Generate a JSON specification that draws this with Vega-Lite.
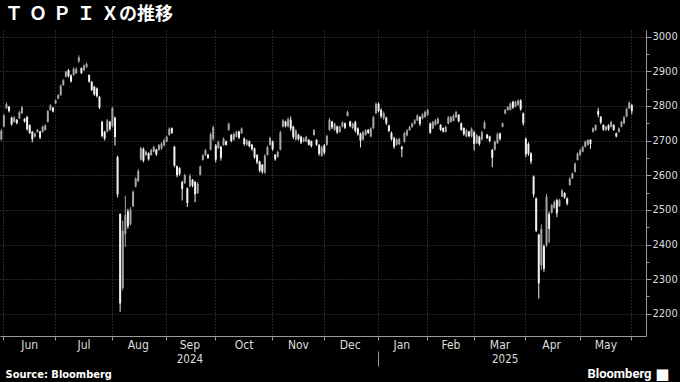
{
  "$schema": "https://vega.github.io/schema/vega-lite/v6.json",
  "width": 646,
  "height": 306,
  "autosize": {"type": "none"},
  "padding": {"left": 0, "top": 30, "right": 34, "bottom": 46},
  "background": "#000000",
  "config": {"view": {"stroke": null}},
  "title": {"text": "Ｔ\u2004Ｏ\u2004Ｐ\u2004Ｉ\u2004Ｘの推移", "anchor": "start", "dx": 5, "offset": 6, "font": "Noto Sans CJK JP", "fontSize": 18, "fontWeight": "bold", "color": "#ffffff"},
  "data": {"values": [
    {"d":"2024-05-30","o":2704,"h":2733,"l":2700,"c":2728},
    {"d":"2024-05-31","o":2741,"h":2776,"l":2738,"c":2772},
    {"d":"2024-06-03","o":2793,"h":2810,"l":2791,"c":2805},
    {"d":"2024-06-04","o":2798,"h":2800,"l":2781,"c":2785},
    {"d":"2024-06-05","o":2766,"h":2769,"l":2743,"c":2747},
    {"d":"2024-06-06","o":2754,"h":2771,"l":2752,"c":2766},
    {"d":"2024-06-07","o":2760,"h":2762,"l":2747,"c":2750},
    {"d":"2024-06-10","o":2764,"h":2786,"l":2762,"c":2782},
    {"d":"2024-06-11","o":2779,"h":2800,"l":2776,"c":2796},
    {"d":"2024-06-12","o":2763,"h":2765,"l":2752,"c":2755},
    {"d":"2024-06-13","o":2768,"h":2771,"l":2728,"c":2733},
    {"d":"2024-06-14","o":2744,"h":2747,"l":2719,"c":2722},
    {"d":"2024-06-17","o":2725,"h":2728,"l":2695,"c":2704},
    {"d":"2024-06-18","o":2711,"h":2723,"l":2709,"c":2720},
    {"d":"2024-06-19","o":2724,"h":2733,"l":2723,"c":2731},
    {"d":"2024-06-20","o":2726,"h":2728,"l":2704,"c":2708},
    {"d":"2024-06-21","o":2725,"h":2743,"l":2723,"c":2740},
    {"d":"2024-06-24","o":2731,"h":2747,"l":2728,"c":2744},
    {"d":"2024-06-25","o":2754,"h":2788,"l":2752,"c":2785},
    {"d":"2024-06-26","o":2788,"h":2805,"l":2786,"c":2801},
    {"d":"2024-06-27","o":2795,"h":2797,"l":2781,"c":2784},
    {"d":"2024-06-28","o":2807,"h":2819,"l":2805,"c":2816},
    {"d":"2024-07-01","o":2821,"h":2834,"l":2819,"c":2831},
    {"d":"2024-07-02","o":2831,"h":2862,"l":2829,"c":2858},
    {"d":"2024-07-03","o":2860,"h":2877,"l":2858,"c":2874},
    {"d":"2024-07-04","o":2884,"h":2901,"l":2882,"c":2898},
    {"d":"2024-07-05","o":2903,"h":2906,"l":2882,"c":2886},
    {"d":"2024-07-08","o":2888,"h":2891,"l":2867,"c":2871},
    {"d":"2024-07-09","o":2889,"h":2911,"l":2887,"c":2907},
    {"d":"2024-07-10","o":2894,"h":2911,"l":2892,"c":2906},
    {"d":"2024-07-11","o":2928,"h":2946,"l":2925,"c":2940},
    {"d":"2024-07-12","o":2909,"h":2911,"l":2892,"c":2895},
    {"d":"2024-07-16","o":2903,"h":2920,"l":2901,"c":2916},
    {"d":"2024-07-17","o":2912,"h":2925,"l":2910,"c":2921},
    {"d":"2024-07-18","o":2889,"h":2891,"l":2867,"c":2870},
    {"d":"2024-07-19","o":2869,"h":2872,"l":2843,"c":2846},
    {"d":"2024-07-22","o":2855,"h":2858,"l":2829,"c":2833},
    {"d":"2024-07-23","o":2850,"h":2853,"l":2824,"c":2828},
    {"d":"2024-07-24","o":2826,"h":2829,"l":2791,"c":2795},
    {"d":"2024-07-25","o":2754,"h":2757,"l":2709,"c":2713},
    {"d":"2024-07-26","o":2725,"h":2728,"l":2700,"c":2706},
    {"d":"2024-07-29","o":2726,"h":2762,"l":2723,"c":2758},
    {"d":"2024-07-30","o":2754,"h":2757,"l":2728,"c":2733},
    {"d":"2024-07-31","o":2742,"h":2797,"l":2738,"c":2794},
    {"d":"2024-08-01","o":2766,"h":2769,"l":2685,"c":2710},
    {"d":"2024-08-02","o":2652,"h":2656,"l":2536,"c":2545},
    {"d":"2024-08-05","o":2488,"h":2490,"l":2206,"c":2230},
    {"d":"2024-08-06","o":2275,"h":2469,"l":2268,"c":2440},
    {"d":"2024-08-07","o":2430,"h":2541,"l":2393,"c":2485},
    {"d":"2024-08-08","o":2495,"h":2503,"l":2445,"c":2452},
    {"d":"2024-08-09","o":2460,"h":2508,"l":2455,"c":2500},
    {"d":"2024-08-13","o":2510,"h":2556,"l":2508,"c":2552},
    {"d":"2024-08-14","o":2567,"h":2594,"l":2565,"c":2590},
    {"d":"2024-08-15","o":2583,"h":2618,"l":2580,"c":2612},
    {"d":"2024-08-16","o":2645,"h":2682,"l":2642,"c":2678},
    {"d":"2024-08-19","o":2676,"h":2680,"l":2637,"c":2642},
    {"d":"2024-08-20","o":2658,"h":2671,"l":2656,"c":2668},
    {"d":"2024-08-21","o":2664,"h":2666,"l":2642,"c":2646},
    {"d":"2024-08-22","o":2658,"h":2676,"l":2656,"c":2672},
    {"d":"2024-08-23","o":2668,"h":2685,"l":2666,"c":2681},
    {"d":"2024-08-26","o":2674,"h":2676,"l":2656,"c":2660},
    {"d":"2024-08-27","o":2673,"h":2690,"l":2671,"c":2686},
    {"d":"2024-08-28","o":2678,"h":2695,"l":2673,"c":2691},
    {"d":"2024-08-29","o":2686,"h":2705,"l":2683,"c":2700},
    {"d":"2024-08-30","o":2697,"h":2714,"l":2695,"c":2711},
    {"d":"2024-09-02","o":2716,"h":2738,"l":2714,"c":2734},
    {"d":"2024-09-03","o":2736,"h":2738,"l":2719,"c":2722},
    {"d":"2024-09-04","o":2682,"h":2685,"l":2623,"c":2628},
    {"d":"2024-09-05","o":2626,"h":2628,"l":2594,"c":2600},
    {"d":"2024-09-06","o":2620,"h":2623,"l":2599,"c":2604},
    {"d":"2024-09-09","o":2580,"h":2584,"l":2527,"c":2560},
    {"d":"2024-09-10","o":2577,"h":2604,"l":2575,"c":2600},
    {"d":"2024-09-11","o":2562,"h":2565,"l":2508,"c":2520},
    {"d":"2024-09-12","o":2568,"h":2604,"l":2565,"c":2598},
    {"d":"2024-09-13","o":2587,"h":2589,"l":2565,"c":2570},
    {"d":"2024-09-17","o":2580,"h":2584,"l":2522,"c":2545},
    {"d":"2024-09-18","o":2548,"h":2580,"l":2546,"c":2575},
    {"d":"2024-09-19","o":2601,"h":2628,"l":2599,"c":2625},
    {"d":"2024-09-20","o":2644,"h":2661,"l":2642,"c":2657},
    {"d":"2024-09-24","o":2658,"h":2676,"l":2656,"c":2672},
    {"d":"2024-09-25","o":2659,"h":2661,"l":2647,"c":2650},
    {"d":"2024-09-26","o":2674,"h":2723,"l":2671,"c":2718},
    {"d":"2024-09-27","o":2705,"h":2743,"l":2700,"c":2738},
    {"d":"2024-09-30","o":2686,"h":2690,"l":2637,"c":2645},
    {"d":"2024-10-01","o":2678,"h":2700,"l":2676,"c":2696},
    {"d":"2024-10-02","o":2682,"h":2685,"l":2642,"c":2650},
    {"d":"2024-10-03","o":2687,"h":2709,"l":2685,"c":2705},
    {"d":"2024-10-04","o":2698,"h":2700,"l":2685,"c":2688},
    {"d":"2024-10-07","o":2731,"h":2752,"l":2728,"c":2748},
    {"d":"2024-10-08","o":2716,"h":2719,"l":2695,"c":2699},
    {"d":"2024-10-09","o":2703,"h":2723,"l":2700,"c":2719},
    {"d":"2024-10-10","o":2711,"h":2728,"l":2709,"c":2725},
    {"d":"2024-10-11","o":2726,"h":2728,"l":2704,"c":2708},
    {"d":"2024-10-15","o":2721,"h":2738,"l":2719,"c":2735},
    {"d":"2024-10-16","o":2706,"h":2709,"l":2685,"c":2690},
    {"d":"2024-10-17","o":2688,"h":2704,"l":2685,"c":2700},
    {"d":"2024-10-18","o":2698,"h":2700,"l":2680,"c":2684},
    {"d":"2024-10-21","o":2688,"h":2690,"l":2671,"c":2675},
    {"d":"2024-10-22","o":2677,"h":2680,"l":2647,"c":2652},
    {"d":"2024-10-23","o":2658,"h":2661,"l":2632,"c":2637},
    {"d":"2024-10-24","o":2639,"h":2642,"l":2608,"c":2613},
    {"d":"2024-10-25","o":2630,"h":2632,"l":2604,"c":2610},
    {"d":"2024-10-28","o":2608,"h":2661,"l":2604,"c":2656},
    {"d":"2024-10-29","o":2659,"h":2685,"l":2656,"c":2681},
    {"d":"2024-10-30","o":2688,"h":2711,"l":2685,"c":2707},
    {"d":"2024-10-31","o":2697,"h":2700,"l":2671,"c":2675},
    {"d":"2024-11-01","o":2659,"h":2661,"l":2642,"c":2646},
    {"d":"2024-11-05","o":2653,"h":2671,"l":2651,"c":2667},
    {"d":"2024-11-06","o":2674,"h":2728,"l":2671,"c":2723},
    {"d":"2024-11-07","o":2740,"h":2762,"l":2738,"c":2758},
    {"d":"2024-11-08","o":2755,"h":2757,"l":2738,"c":2742},
    {"d":"2024-11-11","o":2741,"h":2767,"l":2738,"c":2762},
    {"d":"2024-11-12","o":2760,"h":2769,"l":2728,"c":2735},
    {"d":"2024-11-13","o":2740,"h":2743,"l":2704,"c":2710},
    {"d":"2024-11-14","o":2703,"h":2733,"l":2700,"c":2728},
    {"d":"2024-11-15","o":2717,"h":2719,"l":2700,"c":2704},
    {"d":"2024-11-18","o":2711,"h":2714,"l":2690,"c":2694},
    {"d":"2024-11-19","o":2697,"h":2709,"l":2695,"c":2706},
    {"d":"2024-11-20","o":2697,"h":2714,"l":2695,"c":2710},
    {"d":"2024-11-21","o":2702,"h":2704,"l":2685,"c":2688},
    {"d":"2024-11-22","o":2698,"h":2700,"l":2680,"c":2684},
    {"d":"2024-11-25","o":2716,"h":2733,"l":2714,"c":2730},
    {"d":"2024-11-26","o":2702,"h":2704,"l":2685,"c":2688},
    {"d":"2024-11-27","o":2687,"h":2690,"l":2656,"c":2662},
    {"d":"2024-11-28","o":2656,"h":2685,"l":2653,"c":2680},
    {"d":"2024-11-29","o":2686,"h":2690,"l":2659,"c":2665},
    {"d":"2024-12-02","o":2688,"h":2717,"l":2685,"c":2713},
    {"d":"2024-12-03","o":2731,"h":2765,"l":2728,"c":2760},
    {"d":"2024-12-04","o":2755,"h":2757,"l":2733,"c":2738},
    {"d":"2024-12-05","o":2731,"h":2752,"l":2728,"c":2748},
    {"d":"2024-12-06","o":2741,"h":2743,"l":2719,"c":2723},
    {"d":"2024-12-09","o":2725,"h":2743,"l":2723,"c":2739},
    {"d":"2024-12-10","o":2740,"h":2755,"l":2738,"c":2752},
    {"d":"2024-12-11","o":2750,"h":2752,"l":2733,"c":2737},
    {"d":"2024-12-12","o":2771,"h":2786,"l":2769,"c":2782},
    {"d":"2024-12-13","o":2755,"h":2757,"l":2738,"c":2742},
    {"d":"2024-12-16","o":2736,"h":2752,"l":2733,"c":2748},
    {"d":"2024-12-17","o":2753,"h":2757,"l":2723,"c":2728},
    {"d":"2024-12-18","o":2735,"h":2738,"l":2714,"c":2718},
    {"d":"2024-12-19","o":2720,"h":2723,"l":2680,"c":2700},
    {"d":"2024-12-20","o":2703,"h":2728,"l":2700,"c":2724},
    {"d":"2024-12-23","o":2716,"h":2733,"l":2714,"c":2729},
    {"d":"2024-12-24","o":2731,"h":2733,"l":2719,"c":2722},
    {"d":"2024-12-25","o":2712,"h":2738,"l":2709,"c":2735},
    {"d":"2024-12-26","o":2736,"h":2771,"l":2733,"c":2767},
    {"d":"2024-12-27","o":2779,"h":2810,"l":2776,"c":2806},
    {"d":"2024-12-30","o":2806,"h":2810,"l":2781,"c":2785},
    {"d":"2025-01-06","o":2788,"h":2793,"l":2764,"c":2770},
    {"d":"2025-01-07","o":2765,"h":2784,"l":2759,"c":2778},
    {"d":"2025-01-08","o":2766,"h":2769,"l":2745,"c":2750},
    {"d":"2025-01-09","o":2743,"h":2746,"l":2724,"c":2728},
    {"d":"2025-01-10","o":2722,"h":2726,"l":2700,"c":2705},
    {"d":"2025-01-14","o":2707,"h":2711,"l":2676,"c":2682},
    {"d":"2025-01-15","o":2688,"h":2707,"l":2685,"c":2703},
    {"d":"2025-01-16","o":2690,"h":2708,"l":2686,"c":2704},
    {"d":"2025-01-17","o":2682,"h":2685,"l":2652,"c":2675},
    {"d":"2025-01-20","o":2697,"h":2725,"l":2694,"c":2721},
    {"d":"2025-01-21","o":2715,"h":2733,"l":2712,"c":2729},
    {"d":"2025-01-22","o":2730,"h":2742,"l":2728,"c":2739},
    {"d":"2025-01-23","o":2739,"h":2752,"l":2737,"c":2749},
    {"d":"2025-01-24","o":2749,"h":2762,"l":2746,"c":2758},
    {"d":"2025-01-27","o":2758,"h":2776,"l":2756,"c":2772},
    {"d":"2025-01-28","o":2768,"h":2771,"l":2742,"c":2748},
    {"d":"2025-01-29","o":2763,"h":2779,"l":2761,"c":2775},
    {"d":"2025-01-30","o":2768,"h":2786,"l":2766,"c":2782},
    {"d":"2025-01-31","o":2774,"h":2792,"l":2771,"c":2788},
    {"d":"2025-02-03","o":2749,"h":2752,"l":2719,"c":2723},
    {"d":"2025-02-04","o":2735,"h":2757,"l":2733,"c":2753},
    {"d":"2025-02-05","o":2745,"h":2762,"l":2743,"c":2758},
    {"d":"2025-02-06","o":2749,"h":2767,"l":2747,"c":2763},
    {"d":"2025-02-07","o":2745,"h":2747,"l":2728,"c":2731},
    {"d":"2025-02-10","o":2736,"h":2738,"l":2723,"c":2726},
    {"d":"2025-02-12","o":2725,"h":2743,"l":2723,"c":2739},
    {"d":"2025-02-13","o":2749,"h":2771,"l":2747,"c":2767},
    {"d":"2025-02-14","o":2754,"h":2771,"l":2752,"c":2768},
    {"d":"2025-02-17","o":2757,"h":2776,"l":2755,"c":2772},
    {"d":"2025-02-18","o":2767,"h":2786,"l":2765,"c":2782},
    {"d":"2025-02-19","o":2774,"h":2776,"l":2752,"c":2756},
    {"d":"2025-02-20","o":2750,"h":2752,"l":2728,"c":2731},
    {"d":"2025-02-21","o":2736,"h":2738,"l":2714,"c":2718},
    {"d":"2025-02-25","o":2712,"h":2733,"l":2709,"c":2729},
    {"d":"2025-02-26","o":2726,"h":2728,"l":2709,"c":2713},
    {"d":"2025-02-27","o":2712,"h":2738,"l":2709,"c":2734},
    {"d":"2025-02-28","o":2724,"h":2728,"l":2671,"c":2690},
    {"d":"2025-03-03","o":2693,"h":2719,"l":2690,"c":2715},
    {"d":"2025-03-04","o":2711,"h":2714,"l":2685,"c":2690},
    {"d":"2025-03-05","o":2703,"h":2728,"l":2700,"c":2724},
    {"d":"2025-03-06","o":2735,"h":2757,"l":2733,"c":2752},
    {"d":"2025-03-07","o":2717,"h":2719,"l":2704,"c":2707},
    {"d":"2025-03-10","o":2712,"h":2714,"l":2695,"c":2699},
    {"d":"2025-03-11","o":2673,"h":2676,"l":2623,"c":2650},
    {"d":"2025-03-12","o":2674,"h":2700,"l":2671,"c":2696},
    {"d":"2025-03-13","o":2693,"h":2723,"l":2690,"c":2718},
    {"d":"2025-03-14","o":2720,"h":2723,"l":2700,"c":2705},
    {"d":"2025-03-17","o":2740,"h":2752,"l":2738,"c":2749},
    {"d":"2025-03-18","o":2778,"h":2791,"l":2776,"c":2788},
    {"d":"2025-03-19","o":2788,"h":2800,"l":2786,"c":2797},
    {"d":"2025-03-21","o":2789,"h":2810,"l":2786,"c":2806},
    {"d":"2025-03-24","o":2812,"h":2815,"l":2791,"c":2795},
    {"d":"2025-03-25","o":2798,"h":2815,"l":2796,"c":2812},
    {"d":"2025-03-26","o":2803,"h":2819,"l":2800,"c":2815},
    {"d":"2025-03-27","o":2816,"h":2819,"l":2786,"c":2790},
    {"d":"2025-03-28","o":2778,"h":2781,"l":2743,"c":2750},
    {"d":"2025-03-31","o":2705,"h":2709,"l":2652,"c":2660},
    {"d":"2025-04-01","o":2690,"h":2695,"l":2656,"c":2662},
    {"d":"2025-04-02","o":2663,"h":2666,"l":2632,"c":2640},
    {"d":"2025-04-03","o":2596,"h":2599,"l":2536,"c":2545},
    {"d":"2025-04-04","o":2533,"h":2536,"l":2436,"c":2440},
    {"d":"2025-04-07","o":2428,"h":2431,"l":2244,"c":2288},
    {"d":"2025-04-08","o":2340,"h":2458,"l":2326,"c":2445},
    {"d":"2025-04-09","o":2395,"h":2400,"l":2321,"c":2330},
    {"d":"2025-04-10","o":2398,"h":2546,"l":2393,"c":2538},
    {"d":"2025-04-11","o":2488,"h":2495,"l":2405,"c":2445},
    {"d":"2025-04-14","o":2492,"h":2517,"l":2489,"c":2513},
    {"d":"2025-04-15","o":2506,"h":2527,"l":2503,"c":2522},
    {"d":"2025-04-16","o":2528,"h":2532,"l":2479,"c":2490},
    {"d":"2025-04-17","o":2511,"h":2532,"l":2508,"c":2528},
    {"d":"2025-04-18","o":2538,"h":2560,"l":2536,"c":2556},
    {"d":"2025-04-21","o":2549,"h":2551,"l":2532,"c":2536},
    {"d":"2025-04-22","o":2533,"h":2536,"l":2513,"c":2518},
    {"d":"2025-04-23","o":2572,"h":2594,"l":2570,"c":2590},
    {"d":"2025-04-24","o":2591,"h":2608,"l":2589,"c":2605},
    {"d":"2025-04-25","o":2610,"h":2637,"l":2608,"c":2633},
    {"d":"2025-04-28","o":2644,"h":2666,"l":2642,"c":2662},
    {"d":"2025-04-30","o":2658,"h":2676,"l":2656,"c":2672},
    {"d":"2025-05-01","o":2668,"h":2685,"l":2666,"c":2681},
    {"d":"2025-05-02","o":2682,"h":2700,"l":2680,"c":2697},
    {"d":"2025-05-07","o":2688,"h":2704,"l":2685,"c":2701},
    {"d":"2025-05-08","o":2702,"h":2704,"l":2676,"c":2690},
    {"d":"2025-05-09","o":2725,"h":2738,"l":2723,"c":2735},
    {"d":"2025-05-12","o":2730,"h":2747,"l":2728,"c":2744},
    {"d":"2025-05-13","o":2785,"h":2794,"l":2767,"c":2775},
    {"d":"2025-05-14","o":2768,"h":2771,"l":2747,"c":2752},
    {"d":"2025-05-15","o":2745,"h":2747,"l":2728,"c":2732},
    {"d":"2025-05-16","o":2730,"h":2743,"l":2728,"c":2740},
    {"d":"2025-05-19","o":2744,"h":2747,"l":2728,"c":2733},
    {"d":"2025-05-20","o":2740,"h":2757,"l":2738,"c":2753},
    {"d":"2025-05-21","o":2745,"h":2747,"l":2728,"c":2731},
    {"d":"2025-05-22","o":2721,"h":2723,"l":2709,"c":2712},
    {"d":"2025-05-23","o":2725,"h":2738,"l":2723,"c":2735},
    {"d":"2025-05-26","o":2740,"h":2757,"l":2738,"c":2753},
    {"d":"2025-05-27","o":2750,"h":2771,"l":2747,"c":2767},
    {"d":"2025-05-28","o":2770,"h":2795,"l":2767,"c":2790},
    {"d":"2025-05-29","o":2793,"h":2813,"l":2791,"c":2809},
    {"d":"2025-05-30","o":2802,"h":2805,"l":2776,"c":2785}
  ]},
  "layer": [
    {
      "mark": {"type": "rule", "strokeWidth": 1},
      "encoding": {
        "x": {"field": "d", "type": "ordinal",
          "scale": {"domain": {"unionWith": ["2025-06-02","2025-06-03","2025-06-04","2025-06-05","2025-06-06"]}, "paddingInner": 0, "paddingOuter": 0},
          "axis": {"orient": "bottom", "values": ["2024-05-31","2024-06-28","2024-07-31","2024-08-30","2024-09-30","2024-10-31","2024-11-29","2024-12-30","2025-01-31","2025-02-28","2025-03-31","2025-04-30","2025-05-30"],
            "bandPosition": 0.5, "grid": true, "gridColor": "#4a4a4a", "gridDash": [1, 2], "gridWidth": 1,
            "ticks": true, "tickSize": 4, "tickColor": "#9a9a9a", "labels": false,
            "domain": true, "domainColor": "#9a9a9a", "domainWidth": 1,
            "title": "Source: Bloomberg", "titleX": 5, "titleY": 41, "titleAlign": "left", "titleBaseline": "alphabetic",
            "titleFont": "DejaVu Sans Condensed", "titleFontSize": 11, "titleFontWeight": "bold", "titleColor": "#ffffff"}},
        "y": {"field": "l", "type": "quantitative",
          "scale": {"domain": [2136, 3019], "nice": false, "zero": false},
          "axis": {"orient": "right", "values": [2200, 2300, 2400, 2500, 2600, 2700, 2800, 2900, 3000], "format": "d",
            "grid": true, "gridColor": "#4a4a4a", "gridDash": [1, 2], "gridWidth": 1,
            "tickSize": 5, "tickColor": "#9a9a9a", "domainColor": "#9a9a9a",
            "labelColor": "#dddddd", "labelFont": "DejaVu Sans Condensed", "labelFontSize": 11, "labelPadding": 1, "title": null}},
        "y2": {"field": "h"},
        "color": {"condition": {"test": "datum.c < datum.o", "value": "#f2f2f2"}, "value": "#a6a6a6"}
      }
    },
    {
      "transform": [{"filter": "datum.c >= datum.o"}],
      "mark": {"type": "bar", "size": 2, "color": "#a6a6a6"},
      "encoding": {
        "x": {"field": "d", "type": "ordinal",
          "scale": {"domain": {"unionWith": ["2025-06-02","2025-06-03","2025-06-04","2025-06-05","2025-06-06"]}, "paddingInner": 0, "paddingOuter": 0},
          "axis": {"orient": "bottom", "values": ["2024-06-14","2024-07-16","2024-08-15","2024-09-12","2024-10-16","2024-11-15","2024-12-13","2025-01-17","2025-02-14","2025-03-14","2025-04-14","2025-05-16"],
            "bandPosition": 0.5, "grid": false, "ticks": false, "domain": false,
            "labelExpr": "utcFormat(toDate(datum.value), '%b')", "labelPadding": 3, "labelAngle": 0,
            "labelColor": "#dddddd", "labelFont": "DejaVu Sans Condensed", "labelFontSize": 12,
            "title": "Bloomberg", "titleX": 651, "titleY": 41, "titleAlign": "right", "titleBaseline": "alphabetic",
            "titleFont": "Roboto", "titleFontSize": 13, "titleFontWeight": "bold", "titleColor": "#ffffff"}},
        "y": {"field": "o", "type": "quantitative",
          "scale": {"domain": [2136, 3019], "nice": false, "zero": false},
          "axis": {"orient": "right", "values": [2250, 2350, 2450, 2550, 2650, 2750, 2850, 2950],
            "grid": false, "labels": false, "domain": false, "tickSize": 3, "tickColor": "#9a9a9a", "title": null}},
        "y2": {"field": "c"}
      }
    },
    {
      "transform": [{"filter": "datum.c < datum.o"}],
      "mark": {"type": "bar", "size": 2, "color": "#f2f2f2"},
      "encoding": {
        "x": {"field": "d", "type": "ordinal",
          "scale": {"domain": {"unionWith": ["2025-06-02","2025-06-03","2025-06-04","2025-06-05","2025-06-06"]}, "paddingInner": 0, "paddingOuter": 0},
          "axis": {"orient": "bottom", "values": ["2024-09-12","2024-12-30","2025-03-18"],
            "bandPosition": 0.5, "grid": false, "domain": false, "offset": 15,
            "ticks": true, "tickSize": 15, "tickColor": "#9a9a9a",
            "tickOpacity": {"condition": {"test": "datum.value == '2024-12-30'", "value": 1}, "value": 0},
            "labelExpr": "datum.value == '2024-12-30' ? '' : utcFormat(toDate(datum.value), '%Y')",
            "labelPadding": -13, "labelAngle": 0,
            "labelColor": "#dddddd", "labelFont": "DejaVu Sans Condensed", "labelFontSize": 11.5,
            "title": "■", "titleX": 669, "titleY": 27, "titleAlign": "right", "titleBaseline": "alphabetic",
            "titleFont": "DejaVu Sans", "titleFontSize": 15, "titleColor": "#ffffff"}},
        "y": {"field": "o", "type": "quantitative",
          "scale": {"domain": [2136, 3019], "nice": false, "zero": false},
          "axis": null},
        "y2": {"field": "c"}
      }
    }
  ],
  "resolve": {"axis": {"x": "independent", "y": "independent"}}
}
